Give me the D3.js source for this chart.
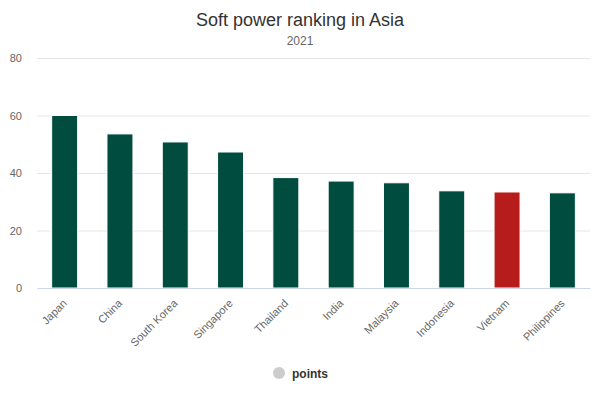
<!DOCTYPE html>
<html>
<head>
<meta charset="utf-8">
<script src="https://cdn.jsdelivr.net/npm/d3@7"></script>
<style>
  body { margin: 0; background: #fff; }
  svg { font-family: "Liberation Sans", Arial, sans-serif; }
</style>
</head>
<body>
<script>
// chart data
var countries = ["Japan", "China", "South Korea", "Singapore", "Thailand",
                 "India", "Malaysia", "Indonesia", "Vietnam", "Philippines"]
var points = [60.0, 53.6, 50.8, 47.3, 38.4, 37.2, 36.6, 33.8, 33.4, 33.1]
var yTicks = [0, 20, 40, 60, 80]
var highlight = "Vietnam"

var width = 600
var height = 400

var margin = {
    top: 58,
    right: 10,
    bottom: 112,
    left: 37
};

var svg = d3.select("body")
    .append("svg")
    .attr("width", width)
    .attr("height", height)

var x = d3.scaleBand()
    .domain(countries)
    .range([margin.left, width - margin.right])
    .paddingInner(0.53)
    .paddingOuter(0.265)

var y = d3.scaleLinear()
    .domain([0, 80])
    .range([height - margin.bottom, margin.top])

// title + subtitle
svg.append("text")
    .attr("x", width / 2)
    .attr("y", 26)
    .attr("text-anchor", "middle")
    .attr("fill", "#333333")
    .style("font-size", "18px")
    .text("Soft power ranking in Asia")

svg.append("text")
    .attr("x", width / 2)
    .attr("y", 45)
    .attr("text-anchor", "middle")
    .attr("fill", "#666666")
    .style("font-size", "12px")
    .text("2021")

// grid
var ejeY = d3.axisLeft(y)
    .tickValues(yTicks)
    .tickSize(-(width - margin.left - margin.right))
    .tickPadding(15)

var gy = svg.append("g")
    .attr("transform", "translate(" + margin.left + ",0)")
    .call(ejeY)
gy.select(".domain").remove()
gy.selectAll(".tick line").attr("stroke", "#e6e6e6")
gy.selectAll(".tick text")
    .attr("fill", "#666666")
    .style("font-size", "11px")

// bars
svg.append("g")
    .selectAll("rect")
    .data(countries)
    .join("rect")
    .attr("x", function (d) { return x(d) })
    .attr("y", function (d, i) { return y(points[i]) })
    .attr("width", x.bandwidth())
    .attr("height", function (d, i) { return y(0) - y(points[i]) })
    .attr("fill", function (d) { return d == highlight ? "#b71c1c" : "#004d40" })
    .attr("stroke", "#ffffff")
    .attr("stroke-width", 1)

// x axis
var ejeX = d3.axisBottom(x).tickSize(0).tickPadding(0)
var gx = svg.append("g")
    .attr("transform", "translate(0," + y(0) + ")")
    .call(ejeX)
gx.select(".domain").attr("stroke", "#ccd6eb")
gx.selectAll(".tick text")
    .attr("fill", "#666666")
    .style("font-size", "11px")
    .attr("text-anchor", "end")
    .attr("dy", null)
    .attr("transform", "translate(3,16) rotate(-45)")

// legend
var legend = svg.append("g")
    .attr("transform", "translate(279,373)")
legend.append("circle")
    .attr("r", 6)
    .attr("fill", "#cccccc")
legend.append("text")
    .attr("x", 13)
    .attr("y", 4.5)
    .attr("fill", "#333333")
    .style("font-size", "12px")
    .style("font-weight", "bold")
    .text("points")
</script>
</body>
</html>
